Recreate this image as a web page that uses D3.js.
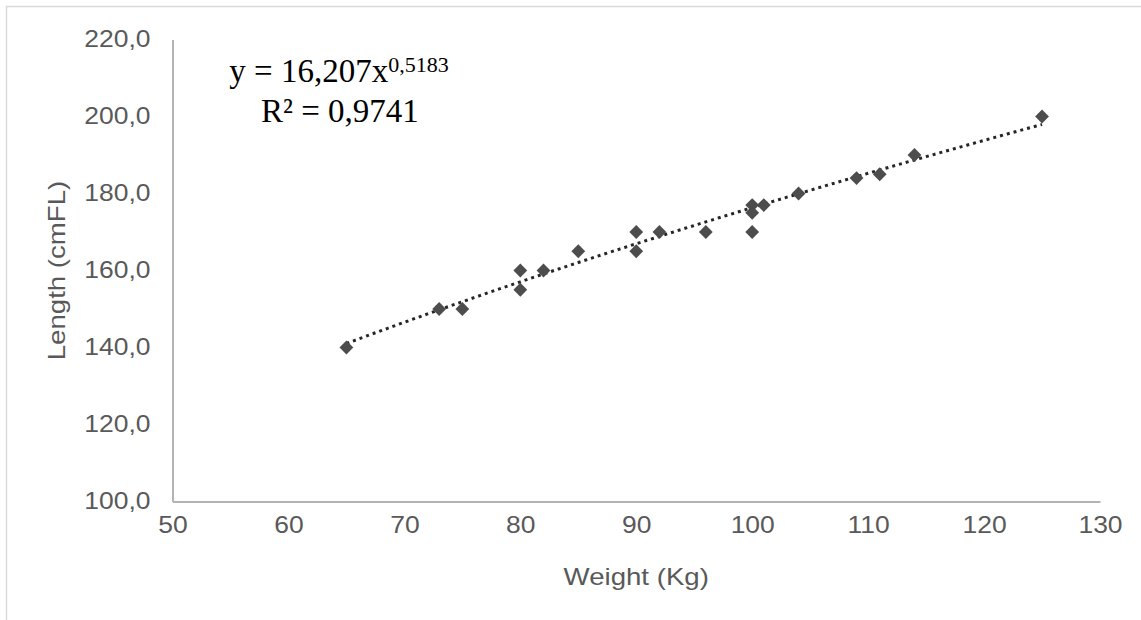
<!DOCTYPE html>
<html>
<head>
<meta charset="utf-8">
<script src="https://cdn.jsdelivr.net/npm/d3@7"></script>
<style>
  body { margin: 0; background: white; }
</style>
</head>
<body>
<script>
// Weight (Kg) vs Length (cmFL)
const weights = [65, 73, 75, 80, 80, 82, 85, 90, 90, 92, 96, 100, 100, 100, 101, 104, 109, 111, 114, 125];
const lengths = [140, 150, 150, 160, 155, 160, 165, 170, 165, 170, 170, 177, 175, 170, 177, 180, 184, 185, 190, 200];

const xTicks = [50, 60, 70, 80, 90, 100, 110, 120, 130];
const yTicks = [100, 120, 140, 160, 180, 200, 220];

// power trendline shown on the chart: y = a * x^b
const fitA = 16.207;
const fitB = 0.5183;
const fitR2 = "0,9741";

const width = 1141, height = 620;
const margin = {top: 39.5, right: 41, bottom: 118.5, left: 172.5};
const sans = "'Liberation Sans', Arial, sans-serif";
const stretch = 1.15; // the source picture is a bit wider than tall

const svg = d3.select("body").append("svg")
    .attr("width", width)
    .attr("height", height);

// faint outer frame (only top/left edges are inside the picture)
svg.append("rect")
    .attr("x", 6.5).attr("y", 6.5)
    .attr("width", width + 10).attr("height", height + 10)
    .attr("fill", "none")
    .attr("stroke", "#d9d9d9")
    .attr("stroke-width", 1.5);

const x = d3.scaleLinear()
    .domain([50, 130])
    .range([margin.left, width - margin.right]);
const y = d3.scaleLinear()
    .domain([100, 220])
    .range([height - margin.bottom, margin.top]);

const comma1 = v => d3.format(".1f")(v).replace(".", ",");

// Axes
const xAxis = svg.append("g")
    .attr("transform", `translate(0,${y(100)})`)
    .call(d3.axisBottom(x).tickValues(xTicks).tickSize(0).tickPadding(15));
const yAxis = svg.append("g")
    .attr("transform", `translate(${x(50)},0)`)
    .call(d3.axisLeft(y).tickValues(yTicks).tickSize(0).tickPadding(22).tickFormat(comma1));

[xAxis, yAxis].forEach(g => {
  g.select(".domain").attr("stroke", "#b3b3b3").attr("stroke-width", 2);
  g.selectAll("text")
      .attr("class", "wide")
      .attr("fill", "#595959")
      .style("font-family", sans)
      .style("font-size", "23px");
});

// Axis titles
svg.append("text")
    .attr("class", "wide")
    .attr("x", x(90))
    .attr("y", 585)
    .attr("text-anchor", "middle")
    .attr("fill", "#595959")
    .style("font-family", sans)
    .style("font-size", "24px")
    .text("Weight (Kg)");

svg.append("text")
    .attr("class", "wide")
    .attr("transform", `translate(65,${y(160)}) rotate(-90)`)
    .attr("text-anchor", "middle")
    .attr("fill", "#595959")
    .style("font-family", sans)
    .style("font-size", "24px")
    .text("Length (cmFL)");

// widen the sans labels a little to match the source proportions
svg.selectAll("text.wide").each(function() {
  const len = this.getComputedTextLength();
  d3.select(this)
      .attr("textLength", len * stretch)
      .attr("lengthAdjust", "spacingAndGlyphs");
});

// Trendline (dotted)
const xMin = d3.min(weights), xMax = d3.max(weights);
const fitPts = d3.range(xMin, xMax + 0.01, 0.5).map(w => [w, fitA * Math.pow(w, fitB)]);
svg.append("path")
    .datum(fitPts)
    .attr("fill", "none")
    .attr("stroke", "#262626")
    .attr("stroke-width", 3)
    .attr("stroke-dasharray", "3,4")
    .attr("d", d3.line().x(d => x(d[0])).y(d => y(d[1])));

// Diamond markers
const diamond = d3.symbol().type(d3.symbolSquare).size(95);
svg.append("g")
    .selectAll("path")
    .data(weights.map((w, i) => [w, lengths[i]]))
    .join("path")
    .attr("d", diamond)
    .attr("transform", d => `translate(${x(d[0])},${y(d[1])}) rotate(45)`)
    .attr("fill", "#4d4d4d");

// Equation label
const eq = svg.append("text")
    .attr("x", 339)
    .attr("y", 81.5)
    .attr("text-anchor", "middle")
    .attr("fill", "#000")
    .style("font-family", "'Liberation Serif', 'Times New Roman', serif")
    .style("font-size", "33px");
eq.append("tspan").text("y = " + String(fitA).replace(".", ",") + "x");
eq.append("tspan")
    .attr("dy", -10)
    .style("font-size", "22px")
    .text(String(fitB).replace(".", ","));

svg.append("text")
    .attr("x", 340)
    .attr("y", 121.5)
    .attr("text-anchor", "middle")
    .attr("fill", "#000")
    .style("font-family", "'Liberation Serif', 'Times New Roman', serif")
    .style("font-size", "33px")
    .text("R² = " + fitR2);
</script>
</body>
</html>
